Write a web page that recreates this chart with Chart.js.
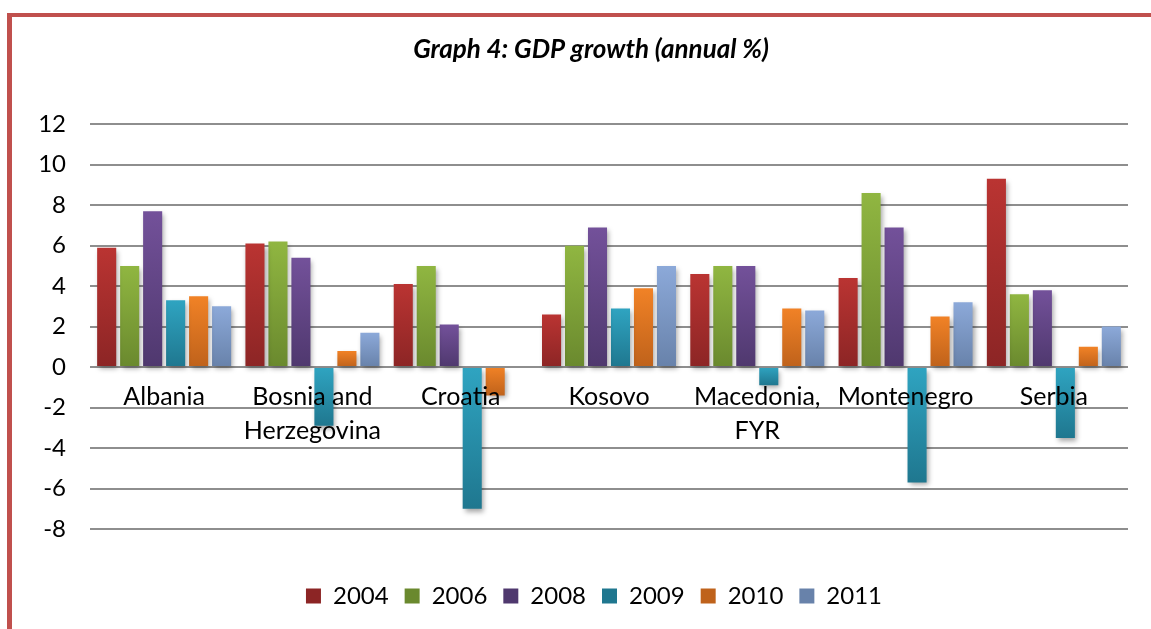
<!DOCTYPE html>
<html>
<head>
<meta charset="utf-8">
<script src="https://cdn.jsdelivr.net/npm/chart.js@4"></script>
<style>
  html, body { margin:0; padding:0; background:#fff; }
  #frame { position:absolute; left:7px; top:13px; width:1200px; height:700px;
           border-left:5px solid #C0504D; border-top:4px solid #C0504D; }
  #wrap { position:absolute; left:0; top:0; width:1151px; height:629px; }
</style>
</head>
<body>
<div id="frame"></div>
<div id="wrap"><canvas id="gdpChart"></canvas></div>
<script>
// categories and values
const countries = ['Albania', ['Bosnia and','Herzegovina'], 'Croatia', 'Kosovo', ['Macedonia,','FYR'], 'Montenegro', 'Serbia'];
const years = ['2004','2006','2008','2009','2010','2011'];
const g2004 = [5.9, 6.1, 4.1, 2.6, 4.6, 4.4, 9.3];
const g2006 = [5.0, 6.2, 5.0, 6.0, 5.0, 8.6, 3.6];
const g2008 = [7.7, 5.4, 2.1, 6.9, 5.0, 6.9, 3.8];
const g2009 = [3.3, -2.9, -7.0, 2.9, -0.9, -5.7, -3.5];
const g2010 = [3.5, 0.8, -1.4, 3.9, 2.9, 2.5, 1.0];
const g2011 = [3.0, 1.7, 0.0, 5.0, 2.8, 3.2, 2.0];
const yTicks = [-8, -6, -4, -2, 0, 2, 4, 6, 8, 10, 12];

// top / bottom / legend colours per series
const shades = [
  ['#BA3432', '#8C2525', '#A52D2B'],
  ['#90B641', '#6A892E', '#7FA038'],
  ['#73519A', '#4F386E', '#624585'],
  ['#2FA4C1', '#1F778F', '#2890AA'],
  ['#F18226', '#BF621B', '#DA7220'],
  ['#8CA9D9', '#6882AA', '#7A96C2']
];

function grad(top, bottom, flat){
  return ctx => {
    if(ctx.type !== 'data' || !ctx.chart.chartArea){ return flat; }
    const y = ctx.chart.scales.y;
    const v = ctx.raw;
    const a = y.getPixelForValue(Math.max(v, 0));
    const b = y.getPixelForValue(Math.min(v, 0));
    if(b - a < 1){ return flat; }
    const g = ctx.chart.ctx.createLinearGradient(0, a, 0, b);
    g.addColorStop(0, top);
    g.addColorStop(1, bottom);
    return g;
  };
}

const series = [g2004, g2006, g2008, g2009, g2010, g2011];
const datasets = series.map((d, i) => ({
  label: years[i],
  data: d,
  backgroundColor: grad(shades[i][0], shades[i][1], shades[i][2]),
  borderWidth: 0,
  categoryPercentage: 0.93,
  barPercentage: 0.83
}));

const shadow = {
  id: 'shadow',
  beforeDatasetsDraw(c){
    const x = c.ctx; x.save();
    x.shadowColor = 'rgba(0,0,0,0.35)';
    x.shadowBlur = 5; x.shadowOffsetX = 2; x.shadowOffsetY = 3;
  },
  afterDatasetsDraw(c){ c.ctx.restore(); }
};

// excel puts the title and legend a bit off centre
const nudge = {
  id: 'nudge',
  afterLayout(c){
    if(c.titleBlock){ c.titleBlock.left += 27; c.titleBlock.right += 27; }
    if(c.legend){
      c.legend.left += 30; c.legend.right += 30;
      c.legend.top += 39; c.legend.bottom += 39;
    }
  }
};

const FONT = 'Lato, "Open Sans", sans-serif';

new Chart(document.getElementById('gdpChart'), {
  type: 'bar',
  data: { labels: countries, datasets: datasets },
  plugins: [shadow, nudge],
  options: {
    responsive: true, maintainAspectRatio: false, animation: false,
    layout: { padding: { left: 0, right: 23, top: 22, bottom: 50 } },
    plugins: {
      title: { display: true, text: 'Graph 4: GDP growth (annual %)', color: '#000',
               font: { family: FONT, size: 26, weight: 'bold', style: 'italic' },
               padding: { top: 12, bottom: 59 } },
      legend: { position: 'bottom',
                labels: { color: '#000', boxWidth: 15, boxHeight: 15, padding: 16,
                          font: { family: FONT, size: 24 } } },
      tooltip: { enabled: false }
    },
    scales: {
      x: { position: { y: 0 },
           grid: { display: false, drawTicks: false }, border: { display: false },
           ticks: { z: 1, color: '#000', padding: 13, maxRotation: 0, autoSkip: false,
                    font: { family: FONT, size: 25, lineHeight: 1.35 } } },
      y: { min: -8, max: 12,
           afterBuildTicks: s => { s.ticks = yTicks.map(v => ({ value: v })); },
           afterFit: s => { s.width = 90; },
           grid: { color: '#8E8E8E', lineWidth: 2, drawTicks: false },
           border: { display: false },
           ticks: { color: '#000', padding: 24, font: { family: FONT, size: 24 } } }
    }
  }
});
</script>
</body>
</html>
